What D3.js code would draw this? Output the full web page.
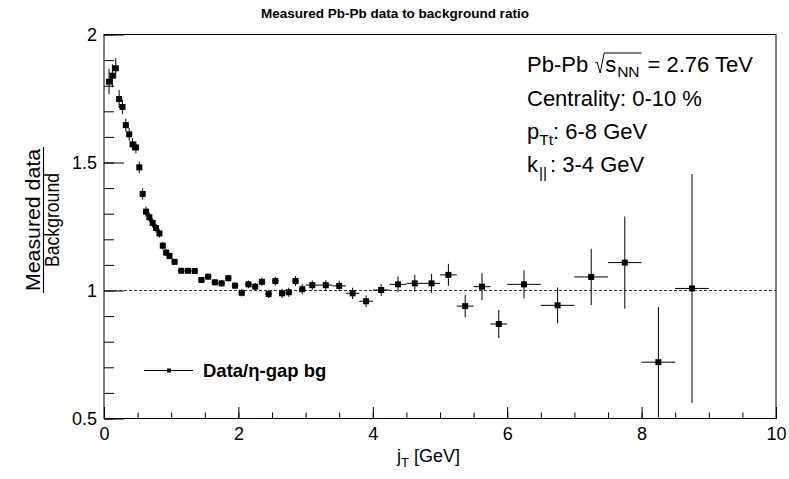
<!DOCTYPE html>
<html><head><meta charset="utf-8">
<script src="https://cdn.jsdelivr.net/npm/d3@7"></script>
<style>
body{margin:0;background:#fff}
text{font-family:"Liberation Sans",Arial,Helvetica,sans-serif;fill:#000}
</style>
</head><body>
<svg id="c" width="789" height="479"></svg>
<script>
// ---- data ----
const jT = [0.075,0.125,0.175,0.225,0.275,0.325,0.375,0.425,0.475,0.525,0.575,0.625,0.675,0.725,0.775,0.825,0.875,0.925,0.975,
  1.05,1.15,1.25,1.35,1.45,1.55,1.65,1.75,1.85,1.95,2.05,2.15,2.25,2.35,2.45,2.55,2.65,2.75,2.85,2.95,
  3.1,3.3,3.5,3.7,3.9,
  4.125,4.375,4.625,4.875,5.125,5.375,5.625,5.875,
  6.25,6.75,7.25,7.75,8.25,8.75];
const binHalfWidth = [0.025,0.025,0.025,0.025,0.025,0.025,0.025,0.025,0.025,0.025,0.025,0.025,0.025,0.025,0.025,0.025,0.025,0.025,0.025,
  0.05,0.05,0.05,0.05,0.05,0.05,0.05,0.05,0.05,0.05,0.05,0.05,0.05,0.05,0.05,0.05,0.05,0.05,0.05,0.05,
  0.1,0.1,0.1,0.1,0.1,
  0.125,0.125,0.125,0.125,0.125,0.125,0.125,0.125,
  0.25,0.25,0.25,0.25,0.25,0.25];
const ratio = [1.816,1.839,1.868,1.748,1.717,1.646,1.610,1.571,1.559,1.481,1.377,1.308,1.286,1.264,1.244,1.223,1.175,1.148,1.135,
  1.112,1.077,1.077,1.076,1.041,1.054,1.032,1.028,1.048,1.019,0.991,1.024,1.015,1.034,0.986,1.037,0.989,0.993,1.037,1.005,
  1.021,1.021,1.018,0.989,0.958,
  1.002,1.024,1.028,1.028,1.061,0.939,1.015,0.869,
  1.024,0.942,1.053,1.109,0.720,1.008];
const ratioErr = [0.050,0.045,0.040,0.035,0.028,0.025,0.025,0.024,0.023,0.023,0.022,0.020,0.018,0.018,0.017,0.016,0.015,0.014,0.013,
  0.011,0.011,0.011,0.011,0.012,0.012,0.012,0.013,0.013,0.014,0.014,0.015,0.015,0.016,0.016,0.017,0.018,0.018,0.019,0.020,
  0.018,0.019,0.020,0.022,0.023,
  0.023,0.031,0.033,0.037,0.043,0.044,0.053,0.055,
  0.055,0.070,0.110,0.180,0.215,0.447];
const xTickValues = [0,2,4,6,8,10];
const xTickLabels = ["0","2","4","6","8","10"];
const yTickValues = [0.5,1,1.5,2];
const yTickLabels = ["0.5","1","1.5","2"];
const refLevel = 1;

// ---- layout ----
const svg = d3.select("#c");
const X0 = 104, X1 = 776, YT = 34.5, YB = 418.5;
const x = d3.scaleLinear().domain([0,10]).range([X0,X1]);
const y = d3.scaleLinear().domain([0.5,2]).range([YB,YT]);

svg.append("rect").attr("width",789).attr("height",479).attr("fill","#fff");

// title
svg.append("text").attr("x",395).attr("y",18).attr("text-anchor","middle")
  .attr("font-weight","bold").attr("font-size","13.5px")
  .text("Measured Pb-Pb data to background ratio");

// axes
const xMinor = d3.range(0,10.001,0.5);
const yMinor = d3.range(0.5,2.001,0.1);
const gx = svg.append("g").attr("transform",`translate(0,${YB})`);
gx.call(d3.axisBottom(x).tickValues(xMinor).tickSize(-6).tickFormat(""));
const gxM = svg.append("g").attr("transform",`translate(0,${YB})`);
gxM.call(d3.axisBottom(x).tickValues(xTickValues).tickSize(-11.5).tickPadding(9)
  .tickFormat((d,i)=>xTickLabels[i]));
const gy = svg.append("g").attr("transform",`translate(${X0},0)`);
gy.call(d3.axisLeft(y).tickValues(yMinor).tickSize(-10).tickFormat(""));
const gyM = svg.append("g").attr("transform",`translate(${X0},0)`);
gyM.call(d3.axisLeft(y).tickValues(yTickValues).tickSize(-20).tickPadding(7)
  .tickFormat((d,i)=>yTickLabels[i]));
svg.selectAll(".domain").remove();
svg.selectAll(".tick line").attr("stroke","#000").attr("stroke-width",1);
svg.selectAll(".tick text").attr("font-size","18px").attr("font-family","Liberation Sans, Arial, sans-serif").attr("fill","#000");

// frame
svg.append("rect").attr("x",X0).attr("y",YT).attr("width",X1-X0).attr("height",YB-YT)
  .attr("fill","none").attr("stroke","#000").attr("stroke-width",1);

// clip
svg.append("clipPath").attr("id","clip").append("rect")
  .attr("x",X0).attr("y",YT).attr("width",X1-X0).attr("height",YB-YT);
const plot = svg.append("g").attr("clip-path","url(#clip)");

// reference line
plot.append("line").attr("x1",x(0)).attr("x2",x(10)).attr("y1",y(refLevel)).attr("y2",y(refLevel))
  .attr("stroke","#333").attr("stroke-width",1).attr("stroke-dasharray","3,2");

const pts = jT.map((c,i)=>({c, h:binHalfWidth[i], v:ratio[i], e:ratioErr[i]}));
const g = plot.selectAll("g.pt").data(pts).join("g").attr("class","pt");
g.append("line").attr("x1",d=>x(d.c)).attr("x2",d=>x(d.c))
  .attr("y1",d=>y(d.v-d.e)).attr("y2",d=>y(d.v+d.e)).attr("stroke","#000").attr("stroke-width",1);
g.append("line").attr("x1",d=>x(d.c-d.h)).attr("x2",d=>x(d.c+d.h))
  .attr("y1",d=>y(d.v)).attr("y2",d=>y(d.v)).attr("stroke","#000").attr("stroke-width",1);
g.append("rect").attr("x",d=>x(d.c)-3).attr("y",d=>y(d.v)-3).attr("width",6).attr("height",6).attr("fill","#000");

// legend
svg.append("line").attr("x1",144).attr("x2",193).attr("y1",370.5).attr("y2",370.5).attr("stroke","#000");
svg.append("rect").attr("x",167).attr("y",368.5).attr("width",4).attr("height",4).attr("fill","#000");
svg.append("text").attr("x",203).attr("y",377).attr("font-weight","bold").attr("font-size","18.5px")
  .text("Data/η-gap bg");

// x title
const xt = svg.append("text").attr("x",397).attr("y",462).attr("font-size","18px");
xt.append("tspan").text("j");
xt.append("tspan").attr("font-size","13px").attr("dy",5).text("T");
xt.append("tspan").attr("dy",-5).text(" [GeV]");

// y title (fraction)
const yt = svg.append("g").attr("transform","translate(0,220) rotate(-90)");
yt.append("text").attr("x",0).attr("y",40).attr("text-anchor","middle").attr("font-size","20px")
  .attr("textLength",142).attr("lengthAdjust","spacingAndGlyphs").text("Measured data");
yt.append("line").attr("x1",-73).attr("x2",73).attr("y1",43.5).attr("y2",43.5).attr("stroke","#000").attr("stroke-width",1.2);
yt.append("text").attr("x",0).attr("y",59).attr("text-anchor","middle").attr("font-size","20px")
  .attr("textLength",94).attr("lengthAdjust","spacingAndGlyphs").text("Background");

// info box
const FS = 22;
function place(txt, x0, yb, size){
  const t = svg.append("text").attr("x",x0).attr("y",yb).attr("font-size",size+"px").text(txt);
  return x0 + t.node().getComputedTextLength();
}
// line 1
let cx = place("Pb-Pb", 527, 72, FS);
cx += 7;
const rx = cx;
let sx = rx + 10;
let ex = place("s", sx, 72, FS);
ex = place("NN", ex + 1, 77, 15.5);
svg.append("path").attr("d",`M${rx},${63} L${rx+2},${62} L${rx+5},${73} L${rx+9},${53} L${ex+2},${53}`)
  .attr("fill","none").attr("stroke","#000").attr("stroke-width",1);
place("= 2.76 TeV", ex + 8, 72, FS);
// line 2
place("Centrality: 0-10 %", 527, 106, FS);
// line 3
cx = place("p", 527, 139, FS);
cx = place("Tt", cx, 145, 15.5);
place(": 6-8 GeV", cx, 139, FS);
// line 4
cx = place("k", 527, 172, FS);
cx = place("||", cx+1, 178, 15.5);
place(": 3-4 GeV", cx + 3, 172, FS);
</script>
</body></html>
